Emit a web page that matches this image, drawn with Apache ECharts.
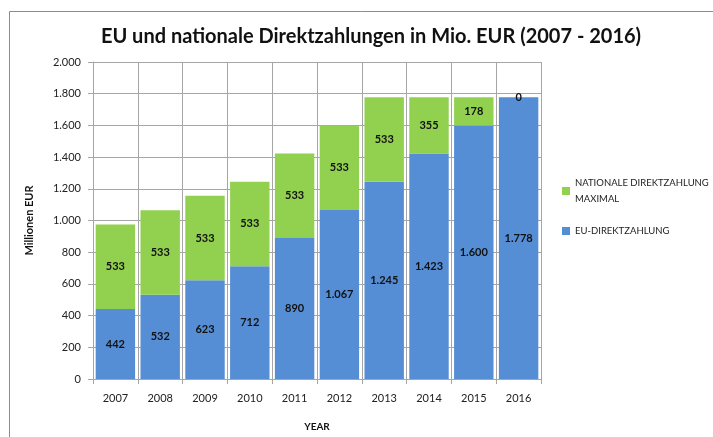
<!DOCTYPE html>
<html>
<head>
<meta charset="utf-8">
<script src="https://cdn.jsdelivr.net/npm/echarts@6/dist/echarts.min.js"></script>
<style>
  html, body { margin: 0; padding: 0; background: #fff; }
  #chart { width: 713px; height: 437px; }
</style>
</head>
<body>
<div id="chart"></div>
<script>
const years = ['2007', '2008', '2009', '2010', '2011', '2012', '2013', '2014', '2015', '2016'];
const euValues = [442, 532, 623, 712, 890, 1067, 1245, 1423, 1600, 1778];
const nationalValues = [533, 533, 533, 533, 533, 533, 533, 355, 178, 0];

// 1.000-style thousands separator
const fmt = (v) => String(v).replace(/\B(?=(\d{3})+(?!\d))/g, '.');

const font = 'Lato, "Open Sans", sans-serif';
const chart = echarts.init(document.getElementById('chart'));

const labelStyle = {
  show: true,
  position: 'inside',
  color: '#111',
  fontWeight: 'bold',
  fontSize: 11,
  fontFamily: font,
  formatter: (p) => fmt(p.value)
};

chart.setOption({
  animation: false,
  title: {
    text: 'EU und nationale Direktzahlungen in Mio. EUR (2007 - 2016)',
    left: 366,
    textAlign: 'center',
    top: 22,
    textStyle: { fontSize: 20, fontWeight: 'bold', color: '#111', fontFamily: font }
  },
  graphic: [{
    type: 'rect',
    shape: { x: 9.5, y: 11.5, width: 800, height: 500 },
    style: { fill: 'none', stroke: '#8c8c8c', lineWidth: 1 },
    silent: true
  }],
  legend: {
    orient: 'vertical',
    left: 557,
    top: 170,
    itemWidth: 8,
    itemHeight: 8,
    itemGap: 16,
    icon: 'rect',
    textStyle: { fontSize: 9.5, color: '#222', fontFamily: font, lineHeight: 16 },
    data: [
      { name: 'NATIONALE DIREKTZAHLUNG\nMAXIMAL' },
      { name: 'EU-DIREKTZAHLUNG' }
    ]
  },
  grid: { left: 93, right: 172, top: 62, bottom: 58 },
  xAxis: {
    type: 'category',
    data: years,
    name: 'YEAR',
    nameLocation: 'middle',
    nameGap: 43,
    nameTextStyle: { fontWeight: 'bold', fontSize: 10, color: '#111', fontFamily: font },
    axisLine: { lineStyle: { color: '#a6a6a6' } },
    axisTick: { show: true, length: 5, lineStyle: { color: '#a6a6a6' } },
    axisLabel: { color: '#222', fontSize: 11, margin: 14, fontFamily: font },
    splitLine: { show: true, lineStyle: { color: '#a6a6a6' } }
  },
  yAxis: {
    type: 'value',
    min: 0,
    max: 2000,
    interval: 200,
    name: 'Millionen EUR',
    nameLocation: 'middle',
    nameGap: 58,
    nameTextStyle: { fontWeight: 'bold', fontSize: 11, color: '#111', fontFamily: font },
    axisLine: { show: true, lineStyle: { color: '#a6a6a6' } },
    axisTick: { show: true, length: 5, lineStyle: { color: '#a6a6a6' } },
    axisLabel: { color: '#222', fontSize: 11, margin: 12, fontFamily: font, formatter: fmt },
    splitLine: { lineStyle: { color: '#a6a6a6' } }
  },
  series: [
    {
      name: 'EU-DIREKTZAHLUNG',
      type: 'bar',
      stack: 'total',
      barCategoryGap: '12%',
      itemStyle: { color: '#558ed5' },
      label: labelStyle,
      data: euValues
    },
    {
      name: 'NATIONALE DIREKTZAHLUNG\nMAXIMAL',
      type: 'bar',
      stack: 'total',
      itemStyle: { color: '#92d050' },
      label: labelStyle,
      data: nationalValues
    }
  ]
});

window.onresize = function () {
  chart.resize();
};
</script>
</body>
</html>
